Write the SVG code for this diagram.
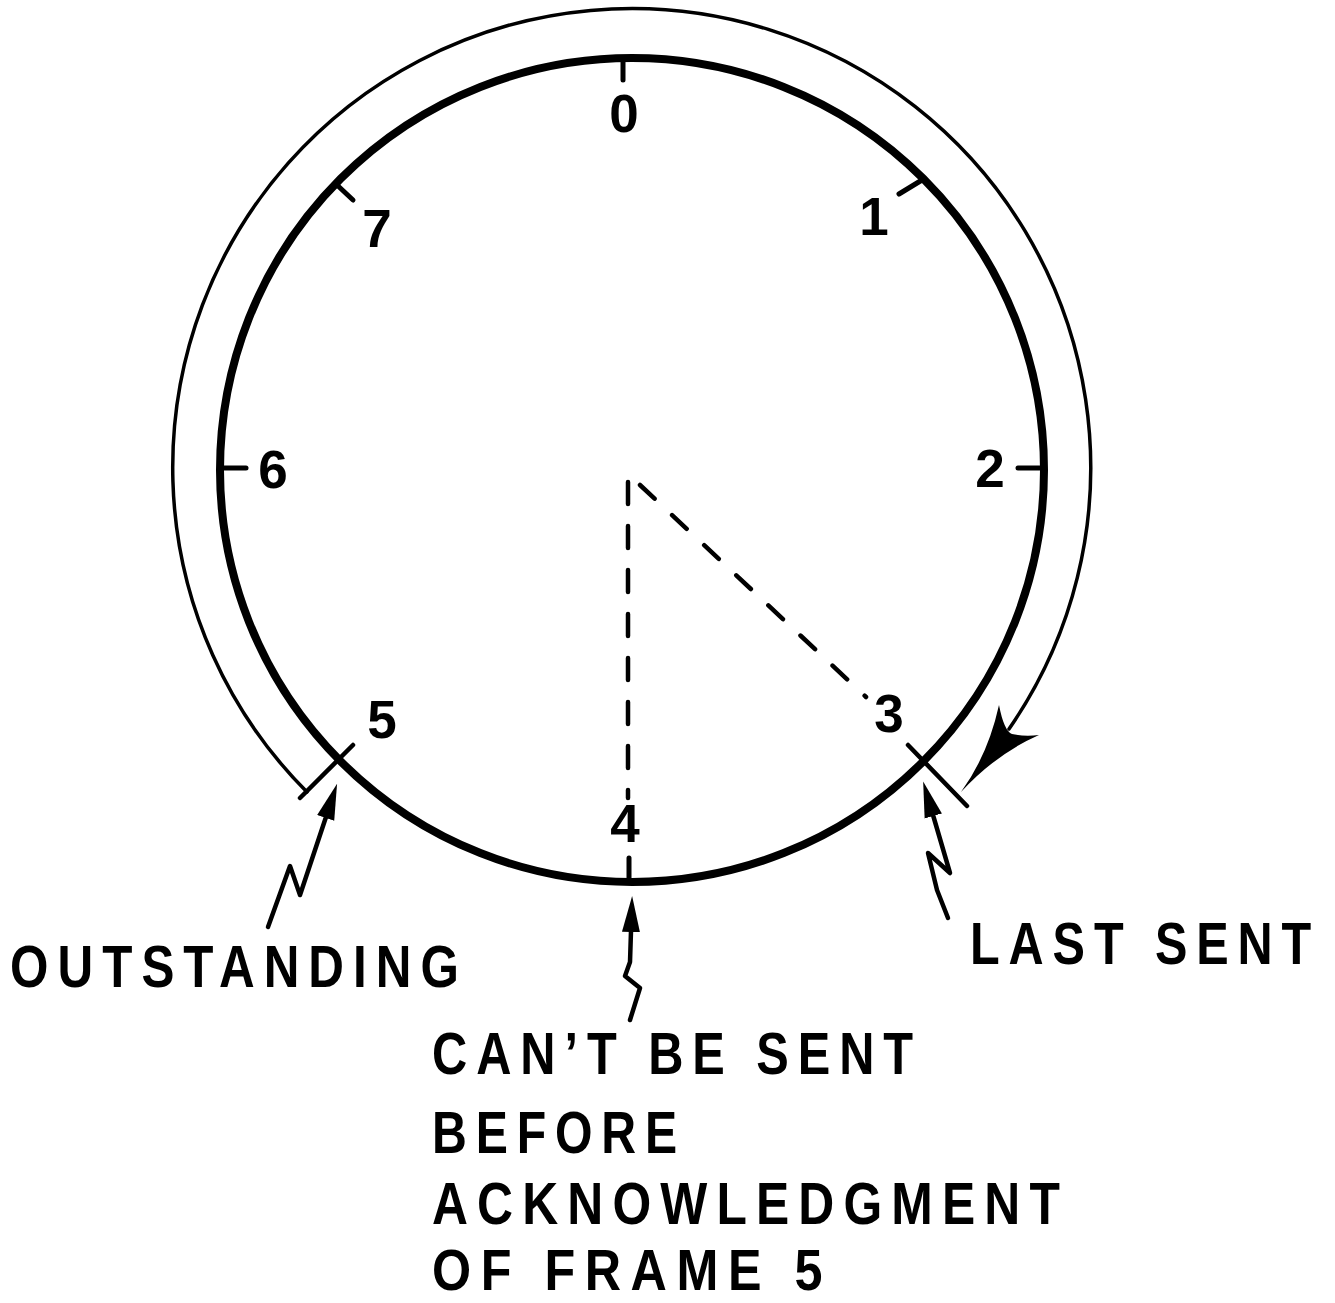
<svg xmlns="http://www.w3.org/2000/svg" width="1335" height="1303" viewBox="0 0 1335 1303">
<style>
.num{font-family:"Liberation Sans",Arial,sans-serif;font-weight:bold;font-size:53px;text-anchor:middle;fill:#000}
.lbl{font-family:"Liberation Sans",Arial,sans-serif;font-weight:bold;font-size:60px;fill:#000;letter-spacing:11px}
.thin{fill:none;stroke:#000;stroke-width:3.5;stroke-linecap:round}
.tick{fill:none;stroke:#000;stroke-width:5;stroke-linecap:round}
.dash{fill:none;stroke:#000;stroke-width:4.5;stroke-linecap:round}
.zig{fill:none;stroke:#000;stroke-width:4.5;stroke-linejoin:round;stroke-linecap:round}
</style>
<defs>
<marker id="ah" markerUnits="userSpaceOnUse" viewBox="0 0 36 20" refX="1" refY="10" markerWidth="36" markerHeight="20" orient="auto">
<path d="M0,1 L36,10 L0,19 Z" fill="#000"/>
</marker>
</defs>
<rect width="1335" height="1303" fill="#fff"/>
<g id="dial">
<circle cx="632" cy="470" r="412" fill="none" stroke="#000" stroke-width="8"/>
<line class="tick" x1="623" y1="58" x2="623" y2="80"/>
<line class="tick" x1="922" y1="180" x2="899" y2="194"/>
<line class="tick" x1="337" y1="185" x2="353" y2="200"/>
<line class="tick" x1="222" y1="468" x2="246" y2="468"/>
<line class="tick" x1="1018" y1="468" x2="1044" y2="468"/>
<line class="tick" x1="629" y1="858" x2="629" y2="882"/>
<text class="num" x="624" y="132">0</text>
<text class="num" x="874" y="235">1</text>
<text class="num" x="990" y="487">2</text>
<text class="num" x="889" y="732">3</text>
<text class="num" x="625" y="842">4</text>
<text class="num" x="382" y="738">5</text>
<text class="num" x="273" y="488">6</text>
<text class="num" x="377" y="247">7</text>
</g>
<g id="window">
<path class="thin" d="M307,792 A459,459 0 1 1 1009,729"/>
<path d="M961,792 Q988,755 999,705 Q1004,731 1012,734 Q1025,737 1039,735 Q996,754 961,792 Z" fill="#000"/>
<line class="tick" x1="300" y1="798" x2="353" y2="745" style="stroke-width:4.5"/>
<line class="tick" x1="908" y1="745" x2="967" y2="806" style="stroke-width:4.5"/>
</g>
<g id="radii">
<line class="dash" x1="628" y1="482" x2="628" y2="798" stroke-dasharray="22 22"/>
<line class="dash" x1="640" y1="485" x2="866" y2="697" stroke-dasharray="20 24"/>
</g>
<g id="connectors">
<path class="zig" d="M268,927 L290,866 L300,895 L326,817" marker-end="url(#ah)"/>
<path class="zig" d="M630,1020 L640,988 L625,976 L630,962 L631,931" marker-end="url(#ah)"/>
<path class="zig" d="M948,918 L937,890 L928,853 L950,873 L933,815" marker-end="url(#ah)"/>
</g>
<g id="label-outstanding">
<text class="lbl" x="10" y="987" textLength="458" lengthAdjust="spacingAndGlyphs">OUTSTANDING</text>
</g>
<g id="label-last-sent">
<text class="lbl" transform="translate(970,964) scale(0.81,1)">LAST SENT</text>
</g>
<g id="label-cant">
<text class="lbl" x="432" y="1074" textLength="490" lengthAdjust="spacingAndGlyphs">CAN’T BE SENT</text>
<text class="lbl" x="432" y="1153" textLength="254" lengthAdjust="spacingAndGlyphs">BEFORE</text>
<text class="lbl" x="432" y="1224" textLength="637" lengthAdjust="spacingAndGlyphs">ACKNOWLEDGMENT</text>
<text class="lbl" x="432" y="1290" textLength="400" lengthAdjust="spacingAndGlyphs" style="font-size:58px">OF FRAME 5</text>
</g>
</svg>
